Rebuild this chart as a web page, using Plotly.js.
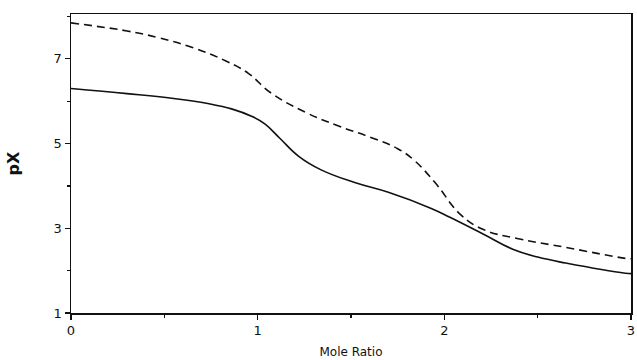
<!DOCTYPE html>
<html>
<head>
<meta charset="utf-8">
<script src="https://cdn.plot.ly/plotly-3.0.1.min.js"></script>
<style>html,body{margin:0;padding:0;background:#fff;}#chart{width:637px;height:360px;}</style>
</head>
<body>
<div id="chart"></div>
<script>
const solidX = [0, 0.30, 0.56, 0.74, 0.86, 0.97, 1.04, 1.12, 1.22, 1.34, 1.52, 1.70, 1.93, 2.03, 2.21, 2.37, 2.50, 2.65, 2.97, 3.0];
const solidY = [6.30, 6.18, 6.06, 5.94, 5.82, 5.64, 5.46, 5.12, 4.70, 4.38, 4.08, 3.85, 3.47, 3.26, 2.86, 2.50, 2.32, 2.18, 1.94, 1.93];
const dashX = [0, 0.12, 0.30, 0.47, 0.65, 0.83, 0.95, 1.07, 1.26, 1.43, 1.61, 1.75, 1.84, 1.95, 2.09, 2.21, 2.39, 2.65, 2.97, 3.0];
const dashY = [7.85, 7.78, 7.66, 7.50, 7.27, 6.95, 6.66, 6.20, 5.73, 5.42, 5.14, 4.88, 4.60, 4.08, 3.31, 2.97, 2.76, 2.55, 2.29, 2.28];
const xTicks = [0, 1, 2, 3];
const yTicks = [1, 3, 5, 7];

const traces = [
  {x: solidX, y: solidY, mode: 'lines', line: {color: '#111', width: 1.6, shape: 'spline', smoothing: 1.2}, hoverinfo: 'skip'},
  {x: dashX, y: dashY, mode: 'lines', line: {color: '#111', width: 1.6, shape: 'spline', smoothing: 1.2, dash: '8px,5px'}, hoverinfo: 'skip'}
];

const layout = {
  width: 637, height: 360,
  margin: {l: 71, r: 6, t: 14, b: 47},
  paper_bgcolor: '#fff', plot_bgcolor: '#fff',
  showlegend: false,
  font: {family: 'DejaVu Sans, Arial, sans-serif', color: '#111'},
  xaxis: {
    range: [0, 3], tickvals: xTicks, ticktext: xTicks.map(String),
    showgrid: false, zeroline: false, showline: true, linecolor: '#111', linewidth: 1.5, mirror: true,
    ticks: 'outside', ticklen: 5, tickcolor: '#111', tickwidth: 1.2,
    minor: {dtick: 0.5, ticks: 'outside', ticklen: 3, tickcolor: '#111', showgrid: false},
    tickfont: {size: 13, color: '#111'}, ticklabeloverflow: 'allow',
    title: {text: 'Mole Ratio', font: {size: 12, color: '#111'}, standoff: 10}
  },
  yaxis: {
    range: [1, 8.06], tickvals: yTicks, ticktext: yTicks.map(String),
    showgrid: false, zeroline: false, showline: true, linecolor: '#111', linewidth: 1.5, mirror: true,
    ticks: 'outside', ticklen: 5, tickcolor: '#111', tickwidth: 1.2,
    minor: {dtick: 1, ticks: 'outside', ticklen: 3, tickcolor: '#111', showgrid: false},
    tickfont: {size: 13, color: '#111'},
    title: {text: '<b>pX</b>', font: {size: 16, color: '#111'}, standoff: 30}
  }
};

Plotly.newPlot('chart', traces, layout, {displayModeBar: false, staticPlot: true});
</script>
</body>
</html>
